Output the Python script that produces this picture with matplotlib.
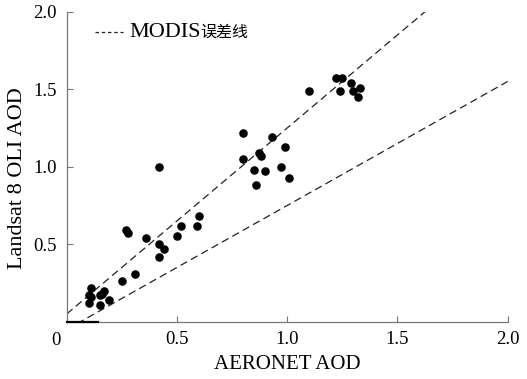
import numpy as np
import matplotlib
matplotlib.use('Agg')
import matplotlib.pyplot as plt

plt.rcParams['font.family'] = ['Liberation Serif', 'Noto Sans CJK SC']

# AERONET AOD (x) vs Landsat 8 OLI AOD (y)
aeronet = [0.11, 0.10, 0.10, 0.11, 0.15, 0.15, 0.17, 0.16, 0.19,
           0.25, 0.31, 0.27, 0.28, 0.36, 0.42, 0.44, 0.42,
           0.50, 0.52, 0.60, 0.59, 0.42,
           0.80, 0.80, 0.87, 0.88, 0.85, 0.90, 0.86, 0.93, 0.99, 0.97, 1.01,
           1.10, 1.22, 1.25, 1.24, 1.29, 1.30, 1.33, 1.32]
landsat = [0.22, 0.17, 0.12, 0.16, 0.11, 0.17, 0.20, 0.18, 0.14,
           0.26, 0.31, 0.59, 0.57, 0.54, 0.50, 0.47, 0.42,
           0.55, 0.62, 0.68, 0.62, 1.00,
           1.22, 1.05, 1.09, 1.07, 0.98, 0.97, 0.88, 1.19, 1.13, 1.00, 0.93,
           1.49, 1.57, 1.57, 1.49, 1.54, 1.49, 1.51, 1.45]

# MODIS expected error envelope: +-(a + b*x)
err_a = 0.05
err_b = 0.20

xticks = [0.5, 1.0, 1.5, 2.0]
yticks = [0.5, 1.0, 1.5, 2.0]

fig = plt.figure(figsize=(5.27, 3.79), dpi=100)
ax = fig.add_axes([0.1266, 0.1512, 0.8368, 0.8179])

xx = np.array([0.0, 2.0])
dash = (0, (6, 3.5))
ax.plot(xx, xx + err_a + err_b * xx, ls=dash, color='#222222', lw=0.9)
ax.plot(xx, xx - err_a - err_b * xx, ls=dash, color='#222222', lw=0.9)
ax.scatter(aeronet, landsat, s=38, color='black', zorder=3, linewidths=0)

ax.set_xlim(0, 2)
ax.set_ylim(0, 2)
ax.set_xticks(xticks)
ax.set_xticklabels(['%.1f' % v for v in xticks])
ax.set_yticks(yticks)
ax.set_yticklabels(['%.1f' % v for v in yticks])
ax.tick_params(direction='in', length=4, width=0.8, color='#777777',
               labelsize=13.5, pad=7)
# origin label sits a bit left of the axis
ax.annotate('0', xy=(0, 0), xycoords='data', xytext=(-8, -7.5),
            textcoords='offset points', ha='center', va='top', fontsize=13.5)
for s in ['top', 'right']:
    ax.spines[s].set_visible(False)
for s in ['left', 'bottom']:
    ax.spines[s].set_color('#777777')
    ax.spines[s].set_linewidth(0.9)
# dark stub on the x axis near the origin
ax.plot([0, 0.143], [0, 0], color='black', lw=1.6, clip_on=False, zorder=4)

ax.set_xlabel('AERONET AOD', fontsize=15, labelpad=5)
ax.set_ylabel('Landsat 8 OLI AOD', fontsize=16, labelpad=4)
ax.yaxis.set_label_coords(-0.09, 0.462)

# legend drawn by hand (latin and chinese parts have different sizes)
ax.plot([0.064, 0.128], [0.9345, 0.9345], transform=ax.transAxes,
        ls=(0, (2.8, 2.2)), color='#222222', lw=0.9, clip_on=False)
t1 = ax.text(0.1415, 0.9345, 'MODIS', transform=ax.transAxes,
             fontsize=16, va='center', ha='left')
ax.annotate('误差线', xy=(1.0, 0.5), xycoords=t1, xytext=(0, 0),
            textcoords='offset points', fontsize=11.5, va='center',
            ha='left', family=['Noto Sans CJK SC'])

fig.savefig('out.png', dpi=100)
